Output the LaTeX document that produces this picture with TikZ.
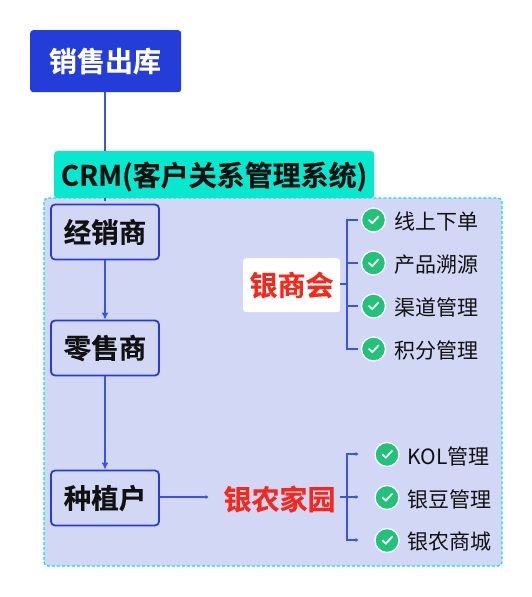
\documentclass[tikz,border=0pt]{standalone}
\usepackage{fontspec}
\setmainfont{Noto Sans CJK SC}
\newfontfamily\cjkb[FakeBold=0.25]{Noto Sans CJK SC Bold}
\usetikzlibrary{arrows.meta,calc}
\definecolor{blue1}{HTML}{243CD8}
\definecolor{line1}{HTML}{3A55E0}
\definecolor{teal1}{HTML}{08E8CF}
\definecolor{panel}{HTML}{D3D7F6}
\definecolor{red1}{HTML}{F5281C}
\definecolor{ink}{HTML}{111111}
\definecolor{chk}{HTML}{22C27A}
\tikzset{
  box/.style={draw=none,rounded corners=3pt,inner sep=0pt,anchor=north west},
  stagebox/.style={draw=blue1,line width=1.8pt,rounded corners=4pt,fill=panel,minimum width=108pt,minimum height=55pt,inner sep=0pt,text=ink,font=\cjkb\fontsize{27.5}{30}\selectfont},
  item/.style={anchor=west,inner sep=0pt,text=ink,font=\fontsize{21}{24}\selectfont},
  redlabel/.style={inner sep=0pt,text=red1,font=\cjkb\fontsize{28}{32}\selectfont},
  conn/.style={draw=line1,line width=1.7pt},
  arrowconn/.style={conn,-{Latex[length=7pt,width=7pt]}},
  dotend/.style={conn,-{Latex[length=3pt,width=4.5pt]}},
  check/.style={circle,fill=chk,draw=white,line width=1.3pt,minimum size=24pt,inner sep=0pt},
  tick/.style={draw=white,line width=1.8pt,line cap=round,line join=round}
}
\newcommand{\checkmark}[3]{%
  \node[check] (#1) at (#2,#3) {};
  \draw[tick] ($(#1)+(-4.5,0)$) -- ($(#1)+(-1.2,3.2)$) -- ($(#1)+(5,-3.6)$);
}
\begin{document}
\begin{tikzpicture}[x=1pt,y=-1pt]
\useasboundingbox (0,0) rectangle (532,597);
\fill[white] (0,0) rectangle (532,597);
% top node and connector to CRM
\node[box,fill=blue1,minimum width=151pt,minimum height=62pt] (start) at (30,30) {};
\node[inner sep=0pt,text=white,font=\cjkb\fontsize{28}{32}\selectfont] at (105,61) {销售出库};
% CRM box
\node[box,fill=teal1,minimum width=320pt,minimum height=47pt] (crm) at (54,151) {};
\coordinate (crmin) at (105,201);
\draw[conn] (start.south -| crmin) -- (crm.north -| crmin);
\node[inner sep=0pt,text=ink,font=\cjkb\fontsize{28}{32}\selectfont] (crmt) at (214,176.5) {CRM(客户关系管理系统)};
% panel
\draw[draw=teal1,fill=panel,line width=1.3pt,dash pattern=on 3pt off 2pt,rounded corners=4pt] (44,198) rectangle (502,566);
\draw[conn] (crm.south -| crmin) -- (crmin);
% stages
\node[stagebox] (a) at (105,232) {\raisebox{-1pt}{经销商}};
\node[stagebox] (b) at (105,348) {\raisebox{-1pt}{零售商}};
\node[stagebox] (c) at (105,498) {\raisebox{-1pt}{种植户}};
\draw[arrowconn] (a) -- (b);
\draw[arrowconn] (b) -- (c);
% yinshanghui
\node[box,fill=white,minimum width=97pt,minimum height=54pt] (ysbox) at (243,258) {};
\node[redlabel] (ys) at (291.5,285) {银商会};
\coordinate (j1) at (347,284);
\coordinate (e1) at (358,220); \coordinate (e2) at (358,263);
\coordinate (e3) at (358,306); \coordinate (e4) at (358,349);
\draw[conn] (ysbox.east |- j1) -- (j1);
\draw[conn] (e1) -| (j1);
\draw[conn] (e2) -- (e2 -| j1);
\draw[conn] (e3) -- (e3 -| j1);
\draw[conn] (e4) -| (j1);
\checkmark{c1}{373.5}{220}
\checkmark{c2}{373.5}{263}
\checkmark{c3}{373.5}{306}
\checkmark{c4}{373.5}{349}
\node[item] at (394,221.5) {线上下单};
\node[item] at (394,264.5) {产品溯源};
\node[item] at (394,307.5) {渠道管理};
\node[item] at (394,350.5) {积分管理};
% yinnongjiayuan
\node[redlabel] (yn) at (279.5,499) {银农家园};
\coordinate (cin) at (208.5,497);
\draw[dotend] (c.east |- cin) -- (cin);
\coordinate (j2) at (347,497);
\coordinate (f1) at (358.5,454); \coordinate (f2) at (358.5,497); \coordinate (f3) at (358.5,540);
\draw[dotend] (340,497) -- (f2);
\draw[dotend] (j2) |- (f1);
\draw[dotend] (j2) |- (f3);
\checkmark{d1}{387}{454.5}
\checkmark{d2}{387}{497.5}
\checkmark{d3}{387}{540.5}
\node[item] at (407.5,456) {KOL管理};
\node[item] at (407.5,499) {银豆管理};
\node[item] at (407.5,542) {银农商城};
\end{tikzpicture}
\end{document}
